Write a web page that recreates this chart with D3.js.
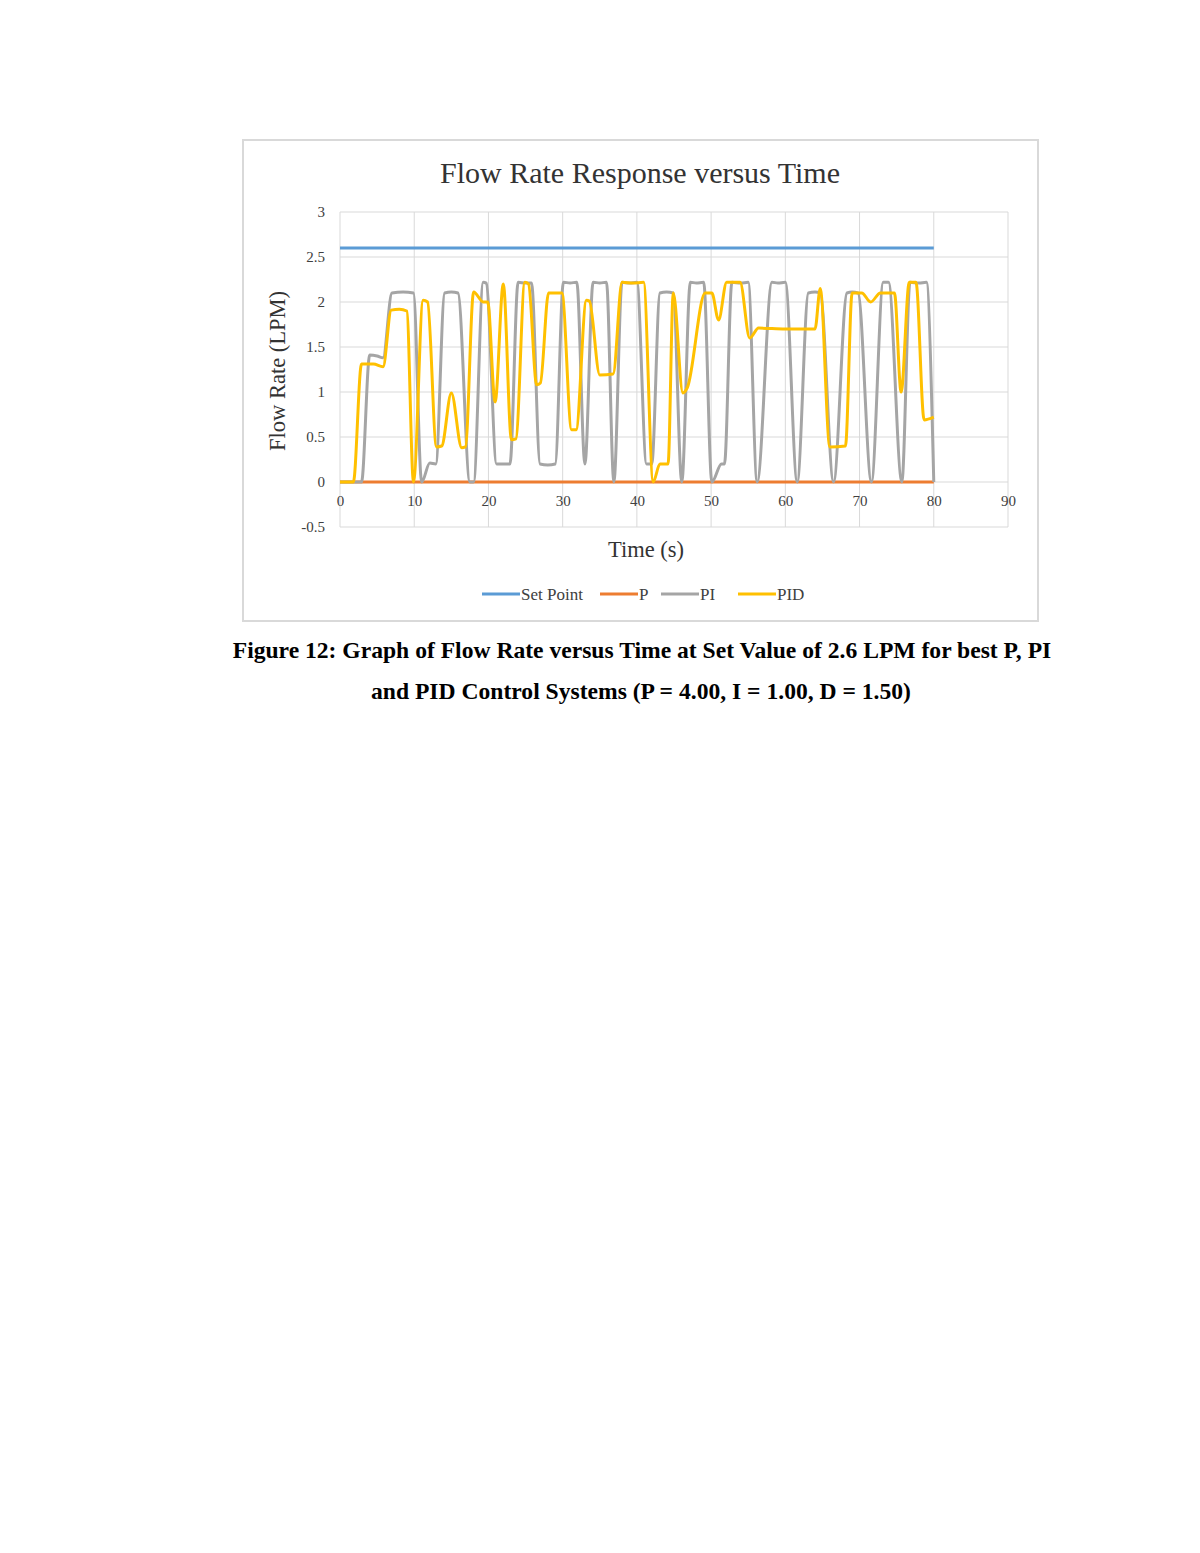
<!DOCTYPE html>
<html>
<head>
<meta charset="utf-8">
<script src="https://cdn.jsdelivr.net/npm/d3@7"></script>
<style>
  body { margin: 0; background: #fff; }
  svg text { font-family: "Liberation Serif", "Times New Roman", serif; }
</style>
</head>
<body>
<div id="canva"></div>
<script>
// series
const setPoint = 2.6;
const pValue = 0;
const spanTime = [0, 80];

const piTime = [0, 2.9, 4.0, 5.0, 5.8, 7.0, 8.5, 9.9, 11.0, 12.1, 12.9, 14.1, 15.0, 15.9, 17.5, 18.0, 19.3, 19.7, 21.1, 22.0, 22.9, 24.0, 25.0, 25.8, 26.95, 28.0, 29.0, 30.1, 31.0, 31.9, 33.0, 34.1, 35.0, 35.9, 36.9, 38.0, 39.0, 40.0, 41.3, 42.0, 43.1, 44.0, 44.9, 46.05, 47.2, 48.0, 49.0, 50.1, 51.4, 51.8, 52.8, 54.0, 55.0, 56.2, 58.2, 59.0, 60.0, 61.6, 63.1, 64.0, 64.7, 66.5, 68.3, 69.0, 69.8, 71.6, 73.2, 73.9, 75.7, 76.8, 78.0, 79.0, 80.0];
const piFlow = [0, 0, 1.41, 1.4, 1.38, 2.1, 2.11, 2.1, 0, 0.21, 0.2, 2.1, 2.11, 2.1, 0, 0, 2.22, 2.21, 0.2, 0.2, 0.2, 2.22, 2.21, 2.21, 0.2, 0.19, 0.2, 2.22, 2.21, 2.22, 0.2, 2.22, 2.21, 2.22, 0, 2.22, 2.21, 2.22, 0.2, 0.2, 2.1, 2.11, 2.1, 0, 2.22, 2.21, 2.22, 0, 0.2, 0.2, 2.22, 2.21, 2.22, 0, 2.22, 2.21, 2.22, 0, 2.1, 2.11, 2.1, 0, 2.1, 2.11, 2.1, 0, 2.22, 2.22, 0, 2.22, 2.21, 2.22, 0];

const pidTime = [0, 1.8, 2.9, 4.5, 5.8, 6.9, 8.0, 9.0, 9.9, 11.2, 11.8, 13.0, 13.7, 15.0, 16.4, 16.9, 18.0, 19.3, 19.9, 20.9, 22.0, 23.1, 23.7, 24.9, 25.4, 26.5, 27.0, 28.1, 29.9, 31.2, 31.8, 33.2, 33.6, 35.0, 36.8, 38.0, 39.5, 40.9, 42.2, 43.1, 44.2, 44.9, 46.2, 46.8, 49.2, 50.1, 51.0, 52.1, 53.9, 55.2, 56.4, 60.0, 64.0, 64.7, 66.0, 68.1, 69.0, 70.3, 71.5, 72.8, 74.7, 75.6, 76.7, 77.6, 78.7, 80.0];
const pidFlow = [0, 0, 1.31, 1.31, 1.28, 1.91, 1.92, 1.9, 0, 2.02, 2.0, 0.39, 0.4, 0.99, 0.38, 0.39, 2.11, 2.0, 2.0, 0.89, 2.2, 0.47, 0.48, 2.22, 2.2, 1.08, 1.1, 2.1, 2.1, 0.58, 0.58, 2.02, 2.01, 1.19, 1.2, 2.22, 2.21, 2.22, 0, 0.2, 0.2, 2.1, 0.99, 1.05, 2.1, 2.1, 1.8, 2.22, 2.22, 1.6, 1.71, 1.7, 1.7, 2.15, 0.39, 0.4, 2.1, 2.1, 2.0, 2.1, 2.1, 1.0, 2.22, 2.22, 0.69, 0.72];

const xTicks = [0, 10, 20, 30, 40, 50, 60, 70, 80, 90];
const yTicks = [-0.5, 0, 0.5, 1, 1.5, 2, 2.5, 3];

const seriesNames = ['Set Point', 'P', 'PI', 'PID'];
const seriesColors = ['#5B9BD5', '#ED7D31', '#A5A5A5', '#FFC000'];

const width = 1200;
const height = 1553;
const plot = { left: 340, right: 1008, top: 212, bottom: 527 };

const svg = d3.select('#canva')
              .append('svg')
              .attr('width', width)
              .attr('height', height);

// chart frame
svg.append('rect')
   .attr('x', 243).attr('y', 140)
   .attr('width', 795).attr('height', 481)
   .attr('fill', '#fff')
   .attr('stroke', '#d9d9d9')
   .attr('stroke-width', 2);

const xScale = d3.scaleLinear().domain([0, 90]).range([plot.left, plot.right]);
const yScale = d3.scaleLinear().domain([-0.5, 3]).range([plot.bottom, plot.top]);

// grid
svg.append('g')
   .selectAll('line')
   .data(yTicks)
   .enter()
   .append('line')
   .attr('x1', plot.left).attr('x2', plot.right)
   .attr('y1', d => yScale(d)).attr('y2', d => yScale(d))
   .attr('stroke', '#d9d9d9').attr('stroke-width', 1);

svg.append('g')
   .selectAll('line')
   .data(xTicks)
   .enter()
   .append('line')
   .attr('x1', d => xScale(d)).attr('x2', d => xScale(d))
   .attr('y1', plot.top).attr('y2', plot.bottom)
   .attr('stroke', '#d9d9d9').attr('stroke-width', 1);

// axes labels via d3 axes, lines hidden
const yAxis = d3.axisLeft(yScale).tickValues(yTicks).tickSize(0).tickPadding(15)
                .tickFormat(d => d);
svg.append('g')
   .attr('transform', `translate(${plot.left}, 0)`)
   .call(yAxis)
   .call(g => g.select('.domain').remove())
   .selectAll('text')
   .style('font-family', '"Liberation Serif", serif')
   .style('font-size', '15px')
   .attr('fill', '#404040');

const xAxis = d3.axisBottom(xScale).tickValues(xTicks).tickSize(0).tickPadding(13)
                .tickFormat(d => d);
svg.append('g')
   .attr('transform', `translate(0, ${yScale(0)})`)
   .call(xAxis)
   .call(g => g.select('.domain').remove())
   .selectAll('text')
   .style('font-family', '"Liberation Serif", serif')
   .style('font-size', '15px')
   .attr('fill', '#404040');

// titles
svg.append('text')
   .attr('x', 640).attr('y', 183)
   .attr('text-anchor', 'middle')
   .style('font-size', '30px')
   .attr('fill', '#333')
   .text('Flow Rate Response  versus  Time');

svg.append('text')
   .attr('x', 646).attr('y', 557)
   .attr('text-anchor', 'middle')
   .style('font-size', '22.5px')
   .attr('fill', '#333')
   .text('Time (s)');

svg.append('text')
   .attr('transform', 'translate(285, 371) rotate(-90)')
   .attr('text-anchor', 'middle')
   .style('font-size', '22.5px')
   .attr('fill', '#333')
   .text('Flow Rate (LPM)');

// lines
const line = d3.line()
               .x(d => xScale(d[0]))
               .y(d => yScale(d[1]))
               .curve(d3.curveMonotoneX);

const seriesData = [
  spanTime.map(t => [t, setPoint]),
  spanTime.map(t => [t, pValue]),
  piTime.map((t, i) => [t, piFlow[i]]),
  pidTime.map((t, i) => [t, pidFlow[i]])
];

svg.append('g')
   .selectAll('path')
   .data(seriesData)
   .enter()
   .append('path')
   .attr('d', d => line(d))
   .attr('fill', 'none')
   .attr('stroke', (d, i) => seriesColors[i])
   .attr('stroke-width', 3)
   .attr('stroke-linejoin', 'round');

// legend
const legendX = [482, 600, 661, 738];
const legend = svg.append('g')
                  .selectAll('g')
                  .data(seriesNames)
                  .enter()
                  .append('g')
                  .attr('transform', (d, i) => `translate(${legendX[i]}, 594)`);

legend.append('line')
      .attr('x1', 0).attr('x2', 38)
      .attr('stroke', (d, i) => seriesColors[i])
      .attr('stroke-width', 3);

legend.append('text')
      .attr('x', 39).attr('y', 6)
      .style('font-size', '17px')
      .attr('fill', '#404040')
      .text(d => d);

// caption
const caption = svg.append('g')
                   .style('font-weight', 'bold')
                   .style('font-size', '23.6px')
                   .attr('text-anchor', 'middle');
caption.append('text')
       .attr('x', 642).attr('y', 658)
       .text('Figure 12: Graph of Flow Rate versus Time at Set Value of 2.6 LPM for best P, PI');
caption.append('text')
       .attr('x', 641).attr('y', 699)
       .text('and PID Control Systems (P = 4.00, I = 1.00, D = 1.50)');
</script>
</body>
</html>
